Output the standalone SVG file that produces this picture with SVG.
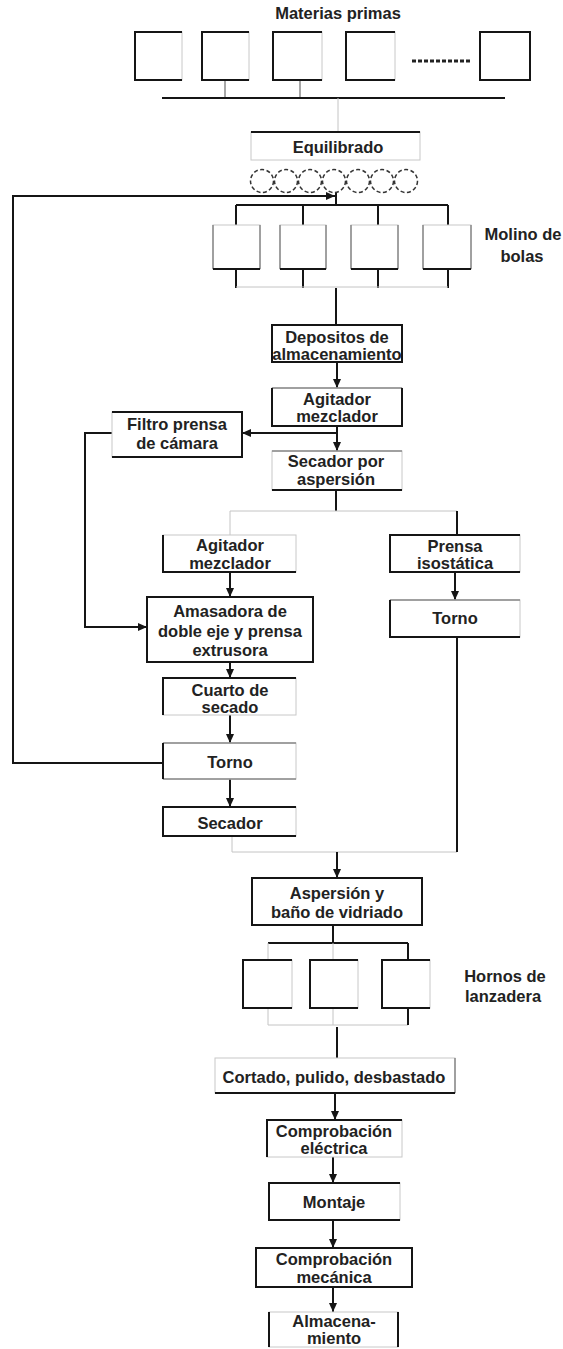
<svg xmlns="http://www.w3.org/2000/svg" width="563" height="1349" viewBox="0 0 563 1349">
  <style>
    .bx { fill: #fff; stroke: #c8c8c8; stroke-width: 1; }
    .dk { fill: none; stroke: #151515; stroke-width: 2; }
    .md { fill: none; stroke: #8a8a8a; stroke-width: 1.5; }
    .ft { fill: none; stroke: #c4c4c4; stroke-width: 1; }
    .t { font-family: "Liberation Sans", Arial, sans-serif; font-weight: bold; font-size: 16.5px; fill: #222; text-anchor: middle; }
    .ball { fill: none; stroke: #333; stroke-width: 1.5; stroke-dasharray: 4 2.5; }
  </style>
  <defs>
    <marker id="ah" markerWidth="10" markerHeight="10" refX="9" refY="5" orient="auto" markerUnits="userSpaceOnUse">
      <path d="M0,1 L9,5 L0,9 z" fill="#151515"/>
    </marker>
  </defs>
  <rect width="563" height="1349" fill="#fff"/>

  <!-- connectors -->
  <g id="connectors">
    <!-- raw materials bus -->
    <path class="md" d="M225,80 V98 M300,80 V98"/>
    <path class="dk" d="M162,98 H505"/>
    <path class="ft" d="M338,98 V132"/>
    <!-- balls to mills -->
    <path class="dk" d="M336,193 V205"/>
    <path class="dk" d="M236,205 H448 M236,205 V225 M303,205 V225 M378,205 V225 M448,205 V225"/>
    <path class="dk" d="M236,269 V288 M303,269 V288 M378,269 V288 M448,269 V288"/>
    <path class="ft" d="M236,287 H448"/>
    <path class="dk" d="M336,288 V325"/>
    <!-- recycle loop from lathe -->
    <path class="dk" d="M163,763 H13 V196 H335" marker-end="url(#ah)"/>
    <!-- main column -->
    <path class="dk" d="M337,362 V388" marker-end="url(#ah)"/>
    <path class="dk" d="M337,426 V451" marker-end="url(#ah)"/>
    <path class="dk" d="M337,433 H242" marker-end="url(#ah)"/>
    <path class="dk" d="M112,433 H85 V627 H147" marker-end="url(#ah)"/>
    <path class="dk" d="M336,490 V511"/>
    <path class="ft" d="M230,511 H457 M230,511 V535"/>
    <path class="dk" d="M457,511 V535"/>
    <!-- left branch -->
    <path class="dk" d="M230,572 V597" marker-end="url(#ah)"/>
    <path class="dk" d="M230,662 V678" marker-end="url(#ah)"/>
    <path class="dk" d="M230,715 V743" marker-end="url(#ah)"/>
    <path class="dk" d="M230,779 V807" marker-end="url(#ah)"/>
    <path class="ft" d="M232,836 V852 H457"/>
    <!-- right branch -->
    <path class="dk" d="M455,572 V600" marker-end="url(#ah)"/>
    <path class="dk" d="M457,637 V852"/>
    <path class="dk" d="M337,852 V878" marker-end="url(#ah)"/>
    <!-- kilns -->
    <path class="dk" d="M333,925 V943 M268,943 H408 M408,943 V960"/>
    <path class="ft" d="M268,943 V960 M333,943 V960"/>
    <path class="ft" d="M268,1008 V1025 M333,1008 V1025 M268,1025 H408"/>
    <path class="dk" d="M408,1008 V1025"/>
    <path class="dk" d="M337,1027 V1058"/>
    <!-- finishing -->
    <path class="dk" d="M335,1093 V1120" marker-end="url(#ah)"/>
    <path class="dk" d="M333,1157 V1183" marker-end="url(#ah)"/>
    <path class="dk" d="M333,1220 V1248" marker-end="url(#ah)"/>
    <path class="dk" d="M333,1287 V1312" marker-end="url(#ah)"/>
  </g>

  <!-- raw materials -->
  <g id="materias">
    <text class="t" x="338" y="19">Materias primas</text>
    <rect class="bx" x="135" y="32" width="47" height="48"/>
    <path class="dk" d="M182,32 H135 V80 H182"/>
    <rect class="bx" x="202" y="32" width="47" height="48"/>
    <path class="dk" d="M249,32 H202 V80 H249"/>
    <rect class="bx" x="273" y="32" width="49" height="48"/>
    <path class="dk" d="M322,32 H273 V80 H322"/>
    <rect class="bx" x="346" y="32" width="49" height="48"/>
    <path class="dk" d="M395,32 H346 V80 H395"/>
    <path d="M412,61 H470" stroke="#222" stroke-width="3" stroke-dasharray="4 2"/>
    <rect class="dk" x="480" y="32" width="50" height="48"/>
  </g>

  <g id="equilibrado">
    <rect class="bx" x="251" y="132" width="169" height="28"/>
    <path class="dk" d="M251,132 H420"/>
    <text class="t" x="338" y="153">Equilibrado</text>
  </g>

  <g id="bolas">
    <circle class="ball" cx="262" cy="181" r="11.5"/>
    <circle class="ball" cx="286" cy="181" r="11.5"/>
    <circle class="ball" cx="310" cy="181" r="11.5"/>
    <circle class="ball" cx="334" cy="181" r="11.5"/>
    <circle class="ball" cx="358" cy="181" r="11.5"/>
    <circle class="ball" cx="382" cy="181" r="11.5"/>
    <circle class="ball" cx="406" cy="181" r="11.5"/>
  </g>

  <g id="molinos">
    <rect class="bx" x="213" y="225" width="47" height="44"/>
    <path class="md" d="M213,225 V269 M260,225 V269"/>
    <path class="dk" d="M213,269 H260"/>
    <rect class="bx" x="280" y="225" width="46" height="44"/>
    <path class="md" d="M280,225 V269 M326,225 V269"/>
    <path class="dk" d="M280,269 H326"/>
    <rect class="bx" x="351" y="225" width="47" height="44"/>
    <path class="md" d="M351,225 V269 M398,225 V269"/>
    <path class="dk" d="M351,269 H398"/>
    <rect class="bx" x="423" y="225" width="48" height="44"/>
    <path class="md" d="M423,225 V269 M471,225 V269"/>
    <path class="dk" d="M423,269 H471"/>
    <text class="t" x="523" y="240">Molino de<tspan x="522" y="262">bolas</tspan></text>
  </g>

  <g id="depositos">
    <rect class="dk" x="272" y="325" width="130" height="37" fill="#fff"/>
    <text class="t" x="337" y="343">Depositos de<tspan x="337" y="360">almacenamiento</tspan></text>
  </g>

  <g id="agitador1">
    <rect class="bx" x="272" y="388" width="130" height="38"/>
    <path class="md" d="M272,388 H402"/>
    <path class="dk" d="M272,388 V426 H402 V388"/>
    <text class="t" x="337" y="405">Agitador<tspan x="337" y="422">mezclador</tspan></text>
  </g>

  <g id="filtro">
    <rect class="bx" x="112" y="412" width="130" height="45"/>
    <path class="dk" d="M112,412 H242 V457 H112"/>
    <text class="t" x="177" y="430">Filtro prensa<tspan x="177" y="449">de cámara</tspan></text>
  </g>

  <g id="secador-asp">
    <rect class="bx" x="272" y="451" width="130" height="39"/>
    <path class="md" d="M272,451 H402"/>
    <path class="dk" d="M272,490 H402"/>
    <text class="t" x="336" y="467">Secador por<tspan x="336" y="485">aspersión</tspan></text>
  </g>

  <g id="agitador2">
    <rect class="bx" x="163" y="535" width="133" height="37"/>
    <path class="dk" d="M163,535 V572 H296"/>
    <text class="t" x="230" y="551">Agitador<tspan x="230" y="569">mezclador</tspan></text>
  </g>

  <g id="prensa">
    <rect class="bx" x="390" y="535" width="130" height="37"/>
    <path class="dk" d="M520,535 H390 V572 H520"/>
    <text class="t" x="455" y="552">Prensa<tspan x="455" y="569">isostática</tspan></text>
  </g>

  <g id="torno-r">
    <rect class="bx" x="390" y="600" width="130" height="37"/>
    <path class="md" d="M390,600 H520"/>
    <path class="dk" d="M390,600 V637 H520"/>
    <text class="t" x="455" y="624">Torno</text>
  </g>

  <g id="amasadora">
    <rect class="dk" x="147" y="597" width="166" height="65" fill="#fff"/>
    <text class="t" x="230" y="617">Amasadora de<tspan x="230" y="637">doble eje y prensa</tspan><tspan x="230" y="656">extrusora</tspan></text>
  </g>

  <g id="cuarto">
    <rect class="bx" x="163" y="678" width="133" height="37"/>
    <path class="dk" d="M296,678 H163 V715"/>
    <text class="t" x="230" y="696">Cuarto de<tspan x="230" y="713">secado</tspan></text>
  </g>

  <g id="torno-l">
    <rect class="bx" x="163" y="743" width="133" height="36"/>
    <path class="md" d="M163,743 H296 M163,779 H296"/>
    <path class="dk" d="M163,743 V779"/>
    <text class="t" x="230" y="768">Torno</text>
  </g>

  <g id="secador">
    <rect class="bx" x="163" y="807" width="133" height="29"/>
    <path class="dk" d="M296,807 H163 V836 H296"/>
    <text class="t" x="230" y="829">Secador</text>
  </g>

  <g id="vidriado">
    <rect class="dk" x="252" y="878" width="170" height="47" fill="#fff"/>
    <text class="t" x="337" y="899">Aspersión y<tspan x="337" y="918">baño de vidriado</tspan></text>
  </g>

  <g id="hornos">
    <rect class="bx" x="243" y="960" width="49" height="48"/>
    <path class="dk" d="M292,960 H243 V1008 H292"/>
    <rect class="bx" x="310" y="960" width="48" height="48"/>
    <path class="dk" d="M358,960 H310 V1008 H358"/>
    <rect class="bx" x="382" y="960" width="48" height="48"/>
    <path class="dk" d="M430,960 H382 V1008 H430"/>
    <text class="t" x="505" y="982">Hornos de<tspan x="503" y="1002">lanzadera</tspan></text>
  </g>

  <g id="cortado">
    <rect class="bx" x="215" y="1058" width="240" height="35"/>
    <path class="md" d="M455,1058 V1093"/>
    <path class="dk" d="M215,1093 H455"/>
    <text class="t" x="334" y="1083">Cortado, pulido, desbastado</text>
  </g>

  <g id="comp-electrica">
    <rect class="bx" x="267" y="1120" width="135" height="37"/>
    <path class="dk" d="M402,1120 H267 V1157"/>
    <text class="t" x="334" y="1137">Comprobación<tspan x="334" y="1154">eléctrica</tspan></text>
  </g>

  <g id="montaje">
    <rect class="bx" x="269" y="1183" width="131" height="37"/>
    <path class="dk" d="M400,1183 H269 V1220 H400"/>
    <text class="t" x="334" y="1208">Montaje</text>
  </g>

  <g id="comp-mecanica">
    <rect class="dk" x="256" y="1248" width="156" height="39" fill="#fff"/>
    <text class="t" x="334" y="1265">Comprobación<tspan x="334" y="1283">mecánica</tspan></text>
  </g>

  <g id="almacenamiento">
    <rect class="bx" x="269" y="1312" width="129" height="35"/>
    <path class="dk" d="M269,1312 V1347 M398,1312 V1347"/>
    <text class="t" x="334" y="1327">Almacena-<tspan x="334" y="1344">miento</tspan></text>
  </g>
</svg>
